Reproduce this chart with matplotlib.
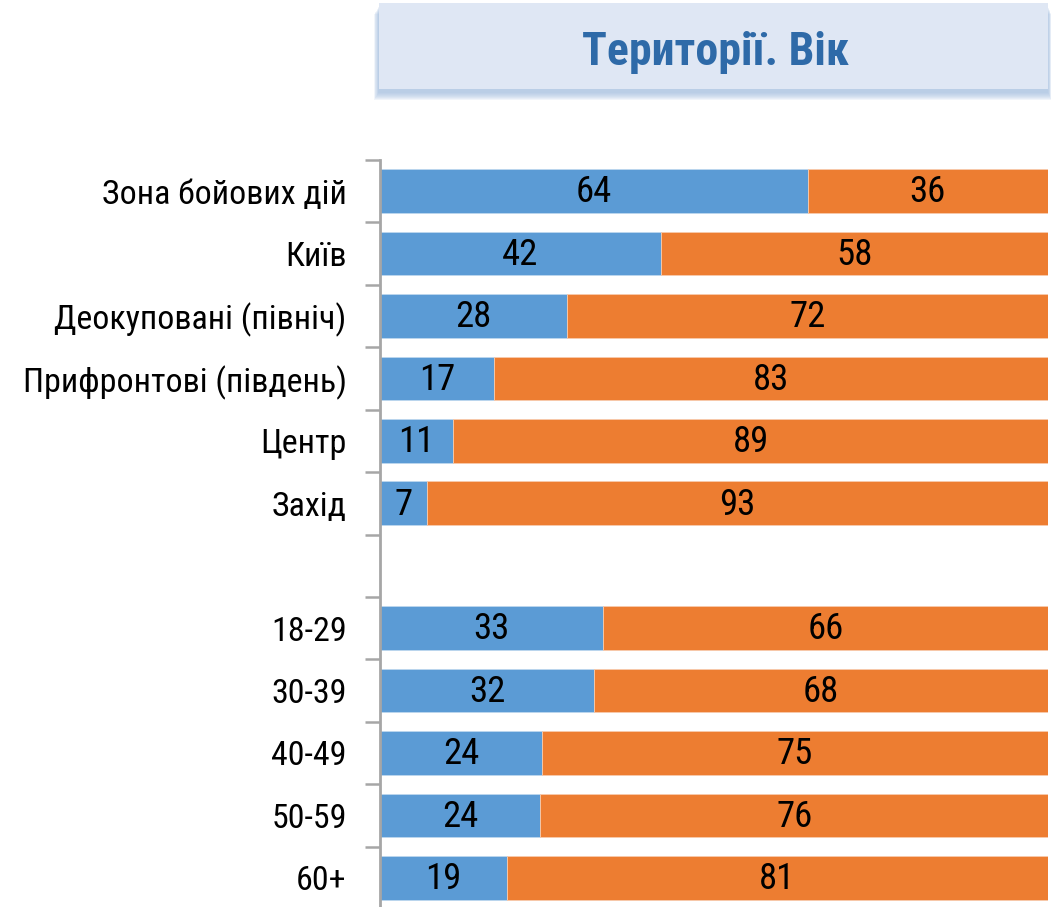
import matplotlib
matplotlib.use("Agg")
import matplotlib.pyplot as plt
from matplotlib import font_manager
from matplotlib.patches import Rectangle
import numpy as np

categories = ["Зона бойових дій", "Київ", "Деокуповані (північ)", "Прифронтові (південь)",
              "Центр", "Захід", "", "18-29", "30-39", "40-49", "50-59", "60+"]
blue_vals = [64, 42, 28, 17, 11, 7, None, 33, 32, 24, 24, 19]
orange_vals = [36, 58, 72, 83, 89, 93, None, 66, 68, 75, 76, 81]
title = "Території. Вік"

names = {f.name for f in font_manager.fontManager.ttflist}
candidates = ["Liberation Sans Narrow", "Roboto Condensed", "PT Sans Narrow",
              "Archivo Narrow", "Asap Condensed"]
chosen = next((c for c in candidates if c in names), "Liberation Sans")
FAM = [chosen, "DejaVu Sans"]
plt.rcParams["font.family"] = FAM

BLUE = "#5B9BD5"
ORANGE = "#ED7D31"
W, H = 1051, 907

fig = plt.figure(figsize=(W / 100, H / 100), dpi=100)
ax = fig.add_axes([380 / W, 1 - 909 / H, (1048 - 380) / W, (909 - 160) / H])

n = len(categories)
y = np.arange(n)
for i in range(n):
    b, o = blue_vals[i], orange_vals[i]
    if b is None:
        continue
    tot = b + o
    bp = b / tot * 100
    op = o / tot * 100
    ax.barh(i, bp, height=0.7, color=BLUE, edgecolor="#BDD7EE", linewidth=0.6)
    ax.barh(i, op, left=bp, height=0.7, color=ORANGE, edgecolor="#F8CBAD", linewidth=0.6)
    ax.text(bp / 2, i + 0.02, str(b), ha="center", va="center", fontsize=26.5, color="black")
    ax.text(bp + op / 2, i + 0.02, str(o), ha="center", va="center", fontsize=26.5, color="black")

ax.set_xlim(0, 100)
ax.set_ylim(n - 0.5, -0.5)
ax.set_yticks(y)
ax.set_yticklabels(categories, fontsize=24.5)
ax.set_yticks(np.arange(-0.5, n, 1.0), minor=True)
ax.tick_params(axis="y", which="major", length=0, pad=24)
ax.tick_params(axis="y", which="minor", length=11, width=1.8, color="#A6A6A6")
ax.set_xticks([])
for s in ["top", "right", "bottom"]:
    ax.spines[s].set_visible(False)
ax.spines["left"].set_color("#A6A6A6")
ax.spines["left"].set_linewidth(2)

# title box with soft shadow
x0, x1, y0, y1 = 379 / W, 1048 / W, 1 - 89 / H, 1 - 3 / H
for k in range(8):
    grow = (8 - k) * 1.0
    fig.patches.append(Rectangle((x0 - (grow * 0.6) / W, y0 - (3 + grow) / H),
                                 (x1 - x0) + (grow * 1.0) / W, (y1 - y0),
                                 transform=fig.transFigure, facecolor="#A3BFE0",
                                 edgecolor="none", alpha=0.15, zorder=0))
fig.patches.append(Rectangle((x0, y0), x1 - x0, y1 - y0, transform=fig.transFigure,
                             facecolor="#DFE7F4", edgecolor="none", zorder=1))
fig.text(715 / W, 1 - 65 / H, title, ha="center", va="baseline",
         fontsize=33, fontweight="bold", color="#2E6AA8", zorder=2)

fig.savefig("out.png", dpi=100)
